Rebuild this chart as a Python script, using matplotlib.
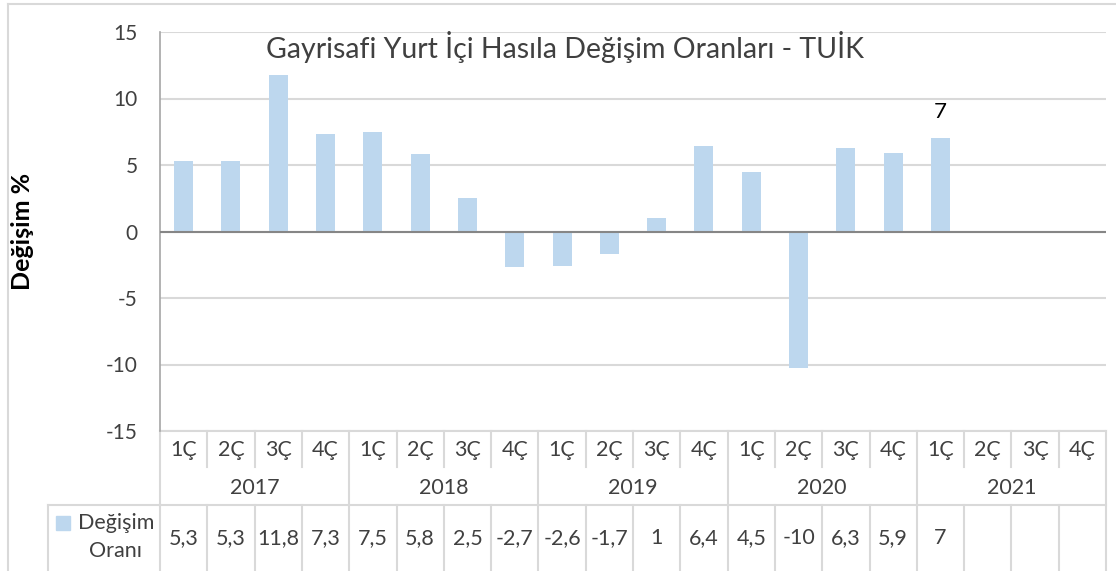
import numpy as np
import matplotlib.pyplot as plt
from matplotlib import transforms
from matplotlib.patches import Rectangle

# Data
years = ["2017", "2018", "2019", "2020", "2021"]
quarters = ["1Ç", "2Ç", "3Ç", "4Ç"]
values = [5.3, 5.3, 11.8, 7.3, 7.5, 5.8, 2.5, -2.7, -2.6, -1.7, 1, 6.4,
          4.5, -10.3, 6.3, 5.9, 7, np.nan, np.nan, np.nan]
table_labels = ["5,3", "5,3", "11,8", "7,3", "7,5", "5,8", "2,5", "-2,7",
                "-2,6", "-1,7", "1", "6,4", "4,5", "-10", "6,3", "5,9", "7",
                "", "", ""]
series_name = ["Değişim", "Oranı"]
title = "Gayrisafi Yurt İçi Hasıla Değişim Oranları - TUİK"

plt.rcParams['font.family'] = ['Lato', 'DejaVu Sans']
plt.rcParams['axes.unicode_minus'] = False

W, H = 1116, 571
fig = plt.figure(figsize=(W / 100, H / 100), dpi=100)
ax = fig.add_axes([160 / W, (H - 431) / H, (1106 - 160) / W, (431 - 32) / H])

bar_color = "#BDD7EE"
grid_color = "#D9D9D9"
text_color = "#404040"
fs = 15.5

n = len(values)
x = np.arange(n)
ax.bar(x, values, width=0.4, color=bar_color, zorder=2)

ax.set_xlim(-0.5, n - 0.5)
ax.set_ylim(-15, 15)
ax.set_yticks(np.arange(-15, 16, 5))
ax.yaxis.set_major_formatter(plt.FuncFormatter(lambda v, p: f"{int(v)}"))
ax.tick_params(axis="y", length=0, labelsize=15, labelcolor=text_color, pad=16)
ax.set_xticks([])
ax.grid(axis="y", color=grid_color, linewidth=1.5, zorder=0)
ax.axhline(0, color="#868686", linewidth=1.5, zorder=3)
for s in ["top", "right", "bottom"]:
    ax.spines[s].set_visible(False)
ax.spines["left"].set_color("#A6A6A6")
ax.spines["left"].set_linewidth(1.2)

ax.set_ylabel("Değişim %", fontsize=18, fontweight="bold", color="black")
ax.yaxis.set_label_coords((34 - 160) / 946, 0.5)

# title inside plot area
ax.text(0.428, 0.962, title, transform=ax.transAxes, ha="center", va="center",
        fontsize=20.5, color=text_color)

# data label for last value
last = max(i for i, v in enumerate(values) if not np.isnan(v))
ax.annotate(table_labels[last], (x[last], values[last]), xytext=(0, 12),
            textcoords="offset points", ha="center", va="bottom",
            fontsize=16, color="black")

# data table below the axes (x in data units, y in axes fraction)
tr = ax.get_xaxis_transform()
ah = 431 - 32
def fy(py):
    return (431 - py) / ah

y_top, y_q, y_yr, y_bot = fy(431), fy(467), fy(505), fy(575)
lkw = dict(color=grid_color, linewidth=1.5, clip_on=False, transform=tr)
left, right = -0.5, n - 0.5
ax.plot([left, right], [y_top, y_top], **lkw)
ax.plot([left, right], [y_yr, y_yr], **lkw)
for i in range(n + 1):
    xb = i - 0.5
    if i % 4 == 0:
        ax.plot([xb, xb], [y_top, y_bot], **lkw)
    else:
        ax.plot([xb, xb], [y_top, y_q], **lkw)
        ax.plot([xb, xb], [y_yr, y_bot], **lkw)

for i in range(n):
    ax.text(i, fy(450), quarters[i % 4], transform=tr, ha="center",
            va="center", fontsize=fs, color=text_color)
    ax.text(i, fy(538), table_labels[i], transform=tr, ha="center",
            va="center", fontsize=fs, color=text_color)
for j, yr in enumerate(years):
    ax.text(j * 4 + 1.5, fy(488), yr, transform=tr, ha="center",
            va="center", fontsize=fs, color=text_color)

# series header cell
ftr = transforms.blended_transform_factory(fig.transFigure, ax.transAxes)
hl = 48 / W
ax.plot([hl, 160 / W], [y_yr, y_yr], color=grid_color, linewidth=1.5,
        clip_on=False, transform=ftr)
ax.plot([hl, hl], [y_yr, y_bot], color=grid_color, linewidth=1.5,
        clip_on=False, transform=ftr)
fig.patches.append(Rectangle((56 / W, (H - 530) / H), 14 / W, 14 / H,
                             transform=fig.transFigure, color=bar_color))
fig.text(116 / W, (H - 523) / H, series_name[0], ha="center", va="center",
         fontsize=fs, color=text_color)
fig.text(116 / W, (H - 551) / H, series_name[1], ha="center", va="center",
         fontsize=fs, color=text_color)

# chart area border
fig.add_artist(plt.Line2D([8 / W, 1], [1 - 4 / H, 1 - 4 / H], color=grid_color,
                          linewidth=1.5, transform=fig.transFigure))
fig.add_artist(plt.Line2D([8 / W, 8 / W], [0, 1 - 4 / H], color=grid_color,
                          linewidth=1.5, transform=fig.transFigure))

fig.savefig("out.png", dpi=100)
